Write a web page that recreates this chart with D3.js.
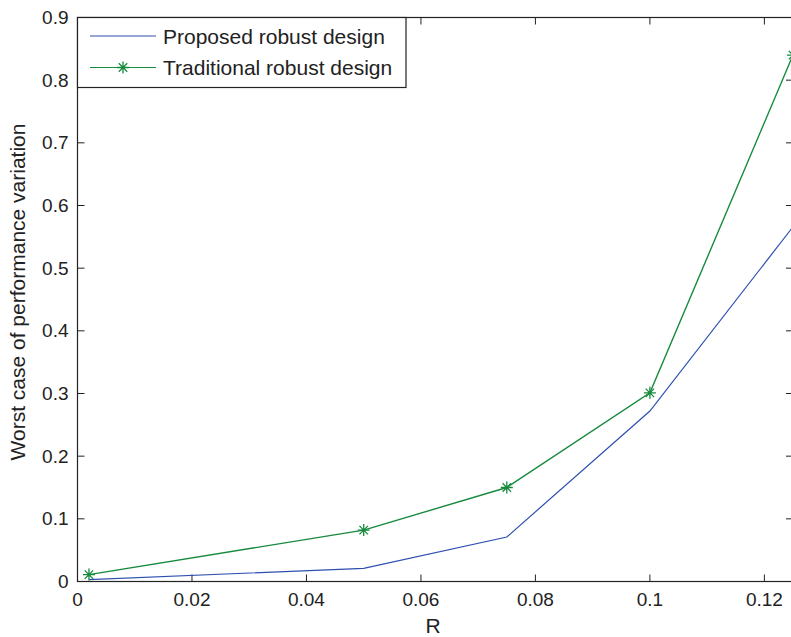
<!DOCTYPE html>
<html><head><meta charset="utf-8">
<script src="https://cdn.jsdelivr.net/npm/d3@7"></script>
<style>body{margin:0;background:#fff;} text{font-family:"Liberation Sans",Arial,sans-serif;fill:#222;}</style>
</head><body>
<svg id="chart" width="791" height="637"></svg>
<script>
const R = [0.002, 0.05, 0.075, 0.1, 0.125];
const proposed = [0.003, 0.021, 0.071, 0.272, 0.566];
const traditional = [0.011, 0.082, 0.15, 0.301, 0.84];
const xTicks = [0, 0.02, 0.04, 0.06, 0.08, 0.1, 0.12];
const yTicks = [0, 0.1, 0.2, 0.3, 0.4, 0.5, 0.6, 0.7, 0.8, 0.9];
const seriesNames = ["Proposed robust design", "Traditional robust design"];
const colors = ["#2d4fb0", "#178a3e"];

(function () {
const svg = d3.select("#chart");
const pL = 77.5, pR = 793, pT = 17.5, pB = 581.5;
const x = d3.scaleLinear().domain([0, 0.125]).range([pL, pR]);
const y = d3.scaleLinear().domain([0, 0.9]).range([pB, pT]);

const fmt = d => d === 0 ? "0" : String(+d.toFixed(2));

svg.append("rect").attr("x", pL).attr("y", pT).attr("width", pR-pL).attr("height", pB-pT)
  .attr("fill", "none").attr("stroke", "#222").attr("stroke-width", 1.2);

const tl = 7;
xTicks.forEach(t => {
  svg.append("line").attr("x1", x(t)).attr("x2", x(t)).attr("y1", pB).attr("y2", pB - tl).attr("stroke", "#222");
  svg.append("line").attr("x1", x(t)).attr("x2", x(t)).attr("y1", pT).attr("y2", pT + tl).attr("stroke", "#222");
  svg.append("text").attr("x", x(t)).attr("y", pB + 24.5).attr("text-anchor", "middle")
    .attr("font-size", 19).text(fmt(t));
});
yTicks.forEach(t => {
  svg.append("line").attr("x1", pL).attr("x2", pL + tl).attr("y1", y(t)).attr("y2", y(t)).attr("stroke", "#222");
  svg.append("line").attr("x1", pR).attr("x2", pR - tl).attr("y1", y(t)).attr("y2", y(t)).attr("stroke", "#222");
  svg.append("text").attr("x", pL - 9).attr("y", y(t)).attr("dy", "0.35em").attr("text-anchor", "end")
    .attr("font-size", 19).text(fmt(t));
});

svg.append("text").attr("x", 433).attr("y", 633).attr("text-anchor", "middle")
  .attr("font-size", 21).text("R");
svg.append("text").attr("transform", "translate(25,292) rotate(-90)").attr("text-anchor", "middle")
  .attr("font-size", 21).text("Worst case of performance variation");

const line = d3.line().x(d => x(d[0])).y(d => y(d[1]));

const g = svg.append("g");
g.append("path").datum(R.map((r, i) => [r, proposed[i]])).attr("d", line)
  .attr("fill", "none").attr("stroke", colors[0]).attr("stroke-width", 1.2);
const trad = R.map((r, i) => [r, traditional[i]]);
g.append("path").datum(trad).attr("d", line)
  .attr("fill", "none").attr("stroke", colors[1]).attr("stroke-width", 1.4);

function star(cx, cy, s) {
  const d = s * 0.707;
  return `M${cx-s},${cy}L${cx+s},${cy}M${cx},${cy-s}L${cx},${cy+s}M${cx-d},${cy-d}L${cx+d},${cy+d}M${cx-d},${cy+d}L${cx+d},${cy-d}`;
}
g.selectAll(".star").data(trad).enter().append("path")
  .attr("d", d => star(x(d[0]), y(d[1]), 6))
  .attr("stroke", colors[1]).attr("stroke-width", 1.3).attr("fill", "none");

const lg = svg.append("g");
lg.append("rect").attr("x", pL).attr("y", pT).attr("width", 406 - pL).attr("height", 87.5 - pT)
  .attr("fill", "#fff").attr("stroke", "#222").attr("stroke-width", 1.2);
const ly = [36, 67.5];
seriesNames.forEach((n, i) => {
  lg.append("line").attr("x1", 90).attr("x2", 156).attr("y1", ly[i]).attr("y2", ly[i])
    .attr("stroke", colors[i]).attr("stroke-width", 1.2);
  if (i === 1) lg.append("path").attr("d", star(123, ly[i], 6)).attr("stroke", colors[i]).attr("stroke-width", 1.3);
  lg.append("text").attr("x", 163).attr("y", ly[i]).attr("dy", "0.36em").attr("font-size", 21).text(n);
});
})();
</script>
</body></html>
